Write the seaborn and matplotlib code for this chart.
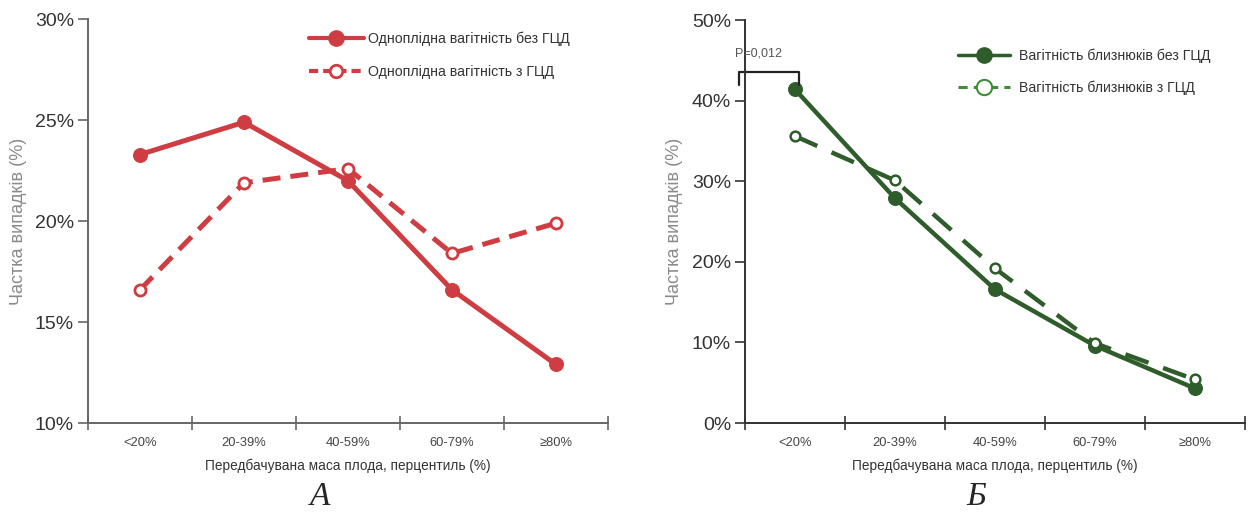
"""
Estimated fetal weight percentile vs share of cases, singleton and twin pregnancies
"""

import matplotlib
matplotlib.use('Agg')
import matplotlib.pyplot as plt
from matplotlib.lines import Line2D
import pandas as pd
import seaborn as sns

# Data
categories = ['<20%', '20-39%', '40-59%', '60-79%', '≥80%']

singleton_no_gdm = [23.3, 24.9, 22.0, 16.6, 12.9]
singleton_gdm = [16.6, 21.9, 22.6, 18.4, 19.9]

twin_no_gdm = [41.4, 27.9, 16.6, 9.6, 4.3]
twin_gdm = [35.6, 30.1, 19.2, 9.9, 5.4]

label_s_no = 'Одноплідна вагітність без ГЦД'
label_s_gdm = 'Одноплідна вагітність з ГЦД'
label_t_no = 'Вагітність близнюків без ГЦД'
label_t_gdm = 'Вагітність близнюків з ГЦД'

x_label = 'Передбачувана маса плода, перцентиль (%)'
y_label = 'Частка випадків (%)'
p_text = 'P=0,012'

sns.set_theme(style='white')
plt.rcParams['font.family'] = ['Liberation Sans', 'DejaVu Sans']

RED = '#cf3d42'
GREEN = '#2e5c2a'
GREEN_LIGHT = '#3c8f37'


def make_frame(values_a, values_b, label_a, label_b):
    return pd.DataFrame({
        'category': categories * 2,
        'value': values_a + values_b,
        'series': [label_a] * len(categories) + [label_b] * len(categories),
    })


def style_axes(ax, ylim, yticks, spine_color):
    ax.set_xlim(-0.5, 4.5)
    ax.set_ylim(*ylim)
    ax.set_yticks(yticks)
    ax.set_yticklabels([f'{t}%' for t in yticks], fontsize=14, color='#333333')
    ax.set_xticks(range(len(categories)))
    ax.set_xticklabels(categories, fontsize=9.3, color='#444444')
    ax.set_xticks([i - 0.5 for i in range(len(categories) + 1)], minor=True)
    ax.tick_params(axis='x', which='major', length=0, pad=10)
    ax.tick_params(axis='x', which='minor', length=10, width=1.2,
                   direction='inout', color=spine_color, bottom=True)
    ax.tick_params(axis='y', length=7, width=1.2, direction='out',
                   color=spine_color, left=True, pad=3)
    for side in ['top', 'right']:
        ax.spines[side].set_visible(False)
    for side in ['left', 'bottom']:
        ax.spines[side].set_color(spine_color)
        ax.spines[side].set_linewidth(1.4)
    ax.set_xlabel(x_label, fontsize=9.8, color='#333333', labelpad=7)
    ax.set_ylabel(y_label, fontsize=13, color='#8a8a8a', labelpad=6)


fig = plt.figure(figsize=(12.59, 5.15), dpi=100)
ax1 = fig.add_axes([0.0699, 0.1786, 0.413, 0.784])
ax2 = fig.add_axes([0.5917, 0.1786, 0.397, 0.7825])

# Panel A - singleton pregnancies
df_a = make_frame(singleton_no_gdm, singleton_gdm, label_s_no, label_s_gdm)
sns.lineplot(data=df_a[df_a['series'] == label_s_no], x='category', y='value',
             color=RED, linewidth=3.6, marker='o', markersize=10,
             markeredgecolor=RED, ax=ax1, legend=False)
sns.lineplot(data=df_a[df_a['series'] == label_s_gdm], x='category', y='value',
             color=RED, linewidth=3.6, linestyle=(0, (3.6, 2.0)), marker='o',
             markersize=8, markerfacecolor='white', markeredgecolor=RED,
             markeredgewidth=2, ax=ax1, legend=False)
style_axes(ax1, (10, 30), [10, 15, 20, 25, 30], '#666666')

handles_a = [
    Line2D([], [], color=RED, lw=3, marker='o', markersize=11),
    Line2D([], [], color=RED, lw=3, linestyle=(0, (2.2, 1.2)), marker='o',
           markersize=9, markerfacecolor='white', markeredgewidth=2),
]
ax1.legend(handles_a, [label_s_no, label_s_gdm], loc='upper left',
           bbox_to_anchor=(0.4, 1.0), frameon=False, fontsize=10.2,
           handlelength=3.9, labelspacing=1.3, handletextpad=0.3,
           labelcolor='#333333')

# Panel B - twin pregnancies
df_b = make_frame(twin_no_gdm, twin_gdm, label_t_no, label_t_gdm)
sns.lineplot(data=df_b[df_b['series'] == label_t_no], x='category', y='value',
             color=GREEN, linewidth=3.2, marker='o', markersize=10,
             markeredgecolor=GREEN, ax=ax2, legend=False)
sns.lineplot(data=df_b[df_b['series'] == label_t_gdm], x='category', y='value',
             color=GREEN, linewidth=3.2, linestyle=(0, (5.5, 3.5)), marker='o',
             markersize=7, markerfacecolor='white', markeredgecolor=GREEN,
             markeredgewidth=1.8, ax=ax2, legend=False)
style_axes(ax2, (0, 50), [0, 10, 20, 30, 40, 50], '#333333')

handles_b = [
    Line2D([], [], color=GREEN, lw=2.5, marker='o', markersize=11),
    Line2D([], [], color=GREEN_LIGHT, lw=2.2, linestyle=(0, (3, 2)), marker='o',
           markersize=11, markerfacecolor='white', markeredgewidth=1.5),
]
ax2.legend(handles_b, [label_t_no, label_t_gdm], loc='upper left',
           bbox_to_anchor=(0.4, 0.96), frameon=False, fontsize=10.2,
           handlelength=3.7, labelspacing=1.2, handletextpad=0.6,
           labelcolor='#333333')

# significance bracket for the first category
ax2.plot([-0.56, -0.56, 0.04, 0.04], [42.0, 43.5, 43.5, 42.0],
         color='#222222', lw=1.6, clip_on=False)
ax2.text(-0.6, 45.8, p_text, fontsize=9, color='#555555',
         ha='left', va='center', clip_on=False)

# panel letters
fig.text(0.254, 0.035, 'А', fontsize=24, style='italic',
         family='Liberation Serif', ha='center', va='center')
fig.text(0.775, 0.035, 'Б', fontsize=24, style='italic',
         family='Liberation Serif', ha='center', va='center')

fig.savefig('out.png', dpi=100)
